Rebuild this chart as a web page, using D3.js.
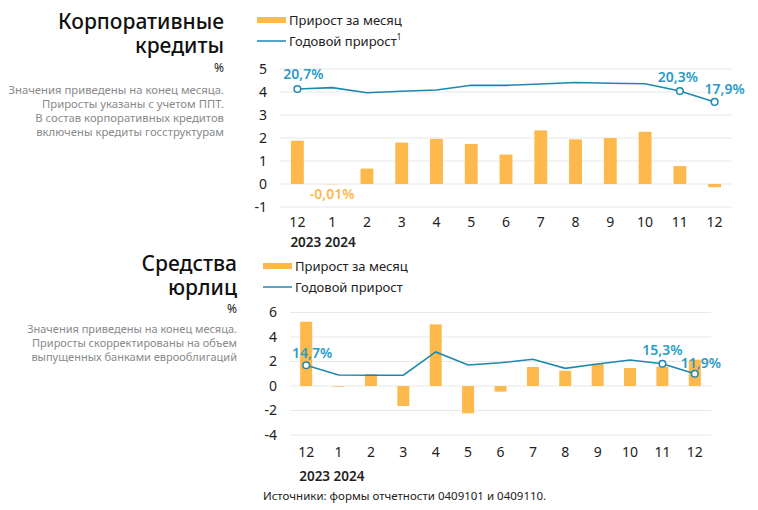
<!DOCTYPE html>
<html><head><meta charset="utf-8">
<script src="https://cdn.jsdelivr.net/npm/d3@7"></script>
<style>
body{margin:0;background:#fff;}
svg{font-family:"Noto Sans",sans-serif;}
</style></head>
<body><svg id="c" width="758" height="510"></svg>
<script>
const months = ["12","1","2","3","4","5","6","7","8","9","10","11","12"];
const years = ["2023","2024"];
// Корпоративные кредиты
const corpMonthly = [1.88,-0.01,0.67,1.80,1.96,1.74,1.28,2.33,1.94,2.00,2.27,0.78,-0.14];
const corpAnnual = [4.13,4.19,3.97,4.03,4.09,4.29,4.29,4.35,4.41,4.38,4.36,4.04,3.57];
const corpTicks = [5,4,3,2,1,0,-1];
const corpLabels = [{i:0,t:"20,7%"},{i:11,t:"20,3%"},{i:12,t:"17,9%"}];
// Средства юрлиц
const firmMonthly = [5.25,-0.05,0.98,-1.63,5.03,-2.23,-0.46,1.55,1.25,1.82,1.47,1.58,2.15];
const firmAnnual = [1.69,0.90,0.88,0.88,2.78,1.71,1.90,2.18,1.44,1.80,2.12,1.82,1.00];
const firmTicks = [6,4,2,0,-4,-2];
const firmLabels = [{i:0,t:"14,7%"},{i:11,t:"15,3%"},{i:12,t:"11,9%"}];

const ORANGE="#FDB94B", BLUE="#1E87B0", LBLUE="#2B9BC8", GRID="#e8e8e8";
const svg=d3.select("#c");

function panel(o){
  const g=svg.append("g");
  const x=d3.scaleBand().domain(d3.range(months.length)).range([o.x0,o.x1]).paddingInner(0.63).paddingOuter(0.315);
  const y=d3.scaleLinear().domain(o.dom).range([o.yb,o.yt]);
  const cx=i=>x(i)+x.bandwidth()/2;
  g.selectAll(".gl").data(o.ticks).join("line")
    .attr("x1",o.x0).attr("x2",o.x1).attr("y1",d=>y(d)).attr("y2",d=>y(d))
    .attr("stroke",GRID).attr("stroke-width",1);
  const ya=d3.axisLeft(y).tickValues(o.ticks).tickSize(0).tickPadding(0).tickFormat(d=>d);
  const yg=g.append("g").attr("transform",`translate(${o.x0-o.ypad},0)`).call(ya);
  yg.select(".domain").remove();
  yg.selectAll("text").attr("font-size",14).attr("fill","#222").attr("font-family","Noto Sans");
  g.selectAll(".bar").data(o.monthly).join("rect")
    .attr("x",(d,i)=>x(i)).attr("width",x.bandwidth())
    .attr("y",d=>y(Math.max(0,d))).attr("height",d=>Math.abs(y(d)-y(0)))
    .attr("fill",ORANGE);
  const line=d3.line().x((d,i)=>cx(i)).y(d=>y(d));
  g.append("path").datum(o.annual).attr("d",line).attr("fill","none").attr("stroke",BLUE).attr("stroke-width",1.6);
  g.selectAll(".pt").data(o.labels).join("circle")
    .attr("cx",d=>cx(d.i)).attr("cy",d=>y(o.annual[d.i])).attr("r",3.3)
    .attr("fill","#fff").attr("stroke",BLUE).attr("stroke-width",1.5);
  g.selectAll(".lb").data(o.labels).join("text")
    .attr("x",(d,k)=>cx(d.i)+o.ldx[k]).attr("y",(d,k)=>y(o.annual[d.i])+o.ldy[k])
    .attr("text-anchor","middle").attr("font-size",14).attr("font-weight",600).attr("fill",LBLUE).text(d=>d.t);
  const xa=d3.axisBottom(x).tickSize(0).tickPadding(0).tickFormat(i=>months[i]);
  const xg=g.append("g").attr("transform",`translate(0,${o.xy})`).call(xa);
  xg.select(".domain").remove();
  xg.selectAll("text").attr("font-size",14).attr("fill","#222").attr("font-family","Noto Sans");
  g.append("text").attr("x",cx(0)-7).attr("y",o.yy).attr("text-anchor","start")
    .attr("font-size",13.5).attr("font-weight",600).attr("fill","#222").attr("xml:space","preserve")
    .text(years.join(" "));
  return {g,x,y,cx};
}

const p1=panel({x0:280,x1:732,yt:69,yb:207,dom:[-1,5],ticks:corpTicks,monthly:corpMonthly,annual:corpAnnual,
  labels:corpLabels,ldx:[6,-2,10],ldy:[-10,-9.5,-8],ypad:13,xy:217,yy:247});
p1.g.append("text").attr("x",p1.cx(1)).attr("y",p1.y(0)+15).attr("text-anchor","middle")
  .attr("font-size",14).attr("font-weight",600).attr("fill",ORANGE).text("-0,01%");

const p2=panel({x0:290,x1:711,yt:312.5,yb:435,dom:[-4,6],ticks:firmTicks,monthly:firmMonthly,annual:firmAnnual,
  labels:firmLabels,ldx:[6,0,6],ldy:[-7,-9,-6],ypad:13,xy:447,yy:481});

function titleBlock(xr,lines,ys,pct,py,notes,ny,nfs){
  lines.forEach((t,i)=>svg.append("text").attr("x",xr).attr("y",ys[i]).attr("text-anchor","end")
    .attr("font-size",21).attr("font-weight",500).attr("fill","#111").text(t));
  svg.append("text").attr("x",xr).attr("y",py).attr("text-anchor","end").attr("font-size",12).attr("fill","#222").text(pct);
  notes.forEach((t,i)=>svg.append("text").attr("x",xr).attr("y",ny+i*14).attr("text-anchor","end")
    .attr("font-size",nfs).attr("fill","#8a8a8a").text(t));
}
titleBlock(224,["Корпоративные","кредиты"],[29,53],"%",72,
  ["Значения приведены на конец месяца.","Приросты указаны с учетом ППТ.","В состав корпоративных кредитов","включены кредиты госструктурам"],94,11.3);
titleBlock(237,["Средства","юрлиц"],[271,295],"%",313,
  ["Значения приведены на конец месяца.","Приросты скорректированы на объем","выпущенных банками еврооблигаций"],333,11);

function legend(x,y,sup){
  svg.append("rect").attr("x",x).attr("y",y-3).attr("width",29).attr("height",6).attr("fill",ORANGE);
  svg.append("text").attr("x",x+32).attr("y",y+5).attr("font-size",13).attr("fill","#222").text("Прирост за месяц");
  svg.append("line").attr("x1",x).attr("x2",x+29).attr("y1",y+21).attr("y2",y+21).attr("stroke",BLUE).attr("stroke-width",1.5);
  const t=svg.append("text").attr("x",x+32).attr("y",y+26).attr("font-size",13).attr("fill","#222").text("Годовой прирост");
  if(sup) t.append("tspan").attr("dy",-6).attr("font-size",8).text("1");
}
legend(257,20,true);
legend(263,266,false);

svg.append("text").attr("x",263).attr("y",500).attr("font-size",11.5).attr("fill","#222")
  .text("Источники: формы отчетности 0409101 и 0409110.");
</script></body></html>
